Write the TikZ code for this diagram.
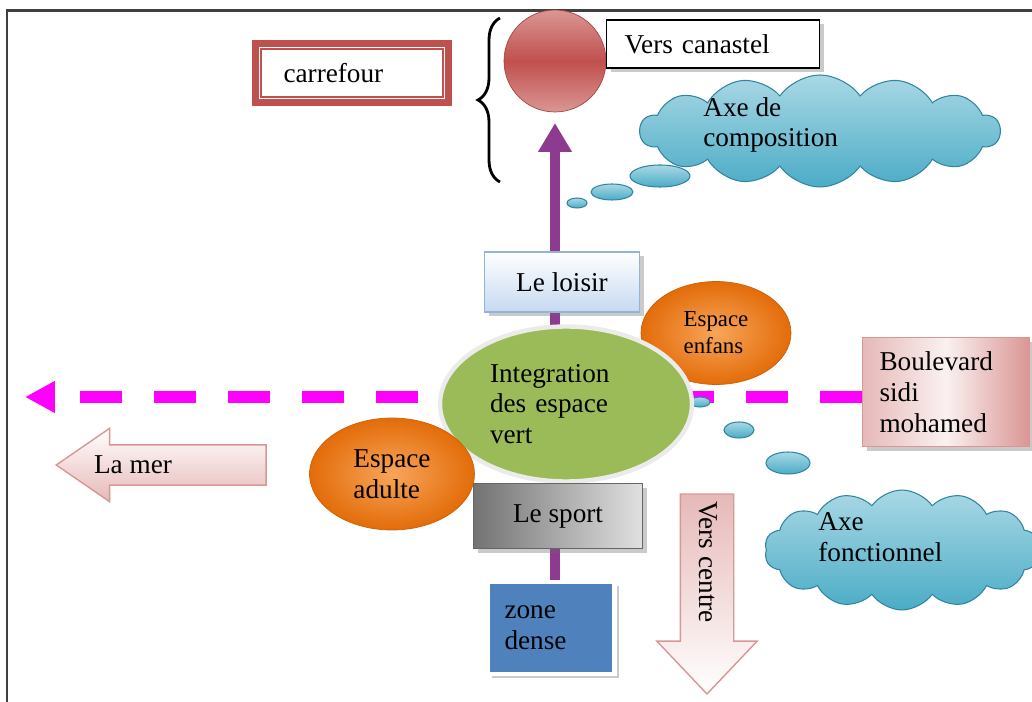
\documentclass[tikz,border=0pt]{standalone}
\usepackage{fontspec}
\setmainfont{Liberation Serif}
\usetikzlibrary{arrows.meta,positioning,shapes.geometric,shapes.symbols,shapes.arrows,calc,decorations.pathreplacing,backgrounds,shadows}
\definecolor{FrameGray}{HTML}{404040}
\definecolor{CarRed}{HTML}{C0504D}
\definecolor{RoseRed}{HTML}{DA9694}
\definecolor{AxePurple}{HTML}{8E3A91}
\definecolor{SeaMagenta}{HTML}{FF00FF}
\definecolor{Teal}{HTML}{4BACC6}
\definecolor{LightTeal}{HTML}{A9D8E5}
\definecolor{DarkTeal}{HTML}{31859C}
\definecolor{LightBlue}{HTML}{C6D9F1}
\definecolor{BorderBlue}{HTML}{95B3D7}
\definecolor{DeepOrange}{HTML}{E36C09}
\definecolor{LightOrange}{HTML}{F8A55A}
\definecolor{LeafGreen}{HTML}{9BBB59}
\definecolor{Pink}{HTML}{E6B9B8}
\definecolor{DenseBlue}{HTML}{4F81BD}
\tikzset{
  txt/.style={font=\fontsize{15.5}{17.5}\selectfont},
  boxshade/.style={drop shadow={shadow xshift=2.5pt, shadow yshift=-2.5pt, opacity=.35, fill=black!60}},
  carbox/.style={txt, rectangle, draw=CarRed, line width=1.4mm, fill=white, minimum height=1.18cm, inner xsep=.56cm, text width=2.74cm, align=left},
  namebox/.style={txt, rectangle, draw=black, line width=.9pt, fill=white, minimum height=.96cm, inner xsep=.36cm, text width=3.54cm, align=left, boxshade},
  topball/.style={circle, minimum size=2.04cm, top color=RoseRed, bottom color=RoseRed, middle color=CarRed, draw=CarRed!85!black, thin},
  axecloud/.style={cloud, cloud puffs=14, cloud puff arc=110, cloud ignores aspect, top color=LightTeal, bottom color=Teal, draw=DarkTeal, line width=.6pt},
  bubble/.style={ellipse, inner sep=0pt, top color=LightTeal, bottom color=Teal, draw=DarkTeal, line width=.6pt},
  loisirbox/.style={txt, rectangle, minimum width=3.1cm, minimum height=1.2cm, top color=white, bottom color=LightBlue, draw=BorderBlue, line width=1pt, boxshade},
  sportbox/.style={txt, rectangle, minimum width=3.38cm, minimum height=1.3cm, left color=black!55, right color=black!12, draw=black!60, line width=.8pt, boxshade},
  densebox/.style={txt, rectangle, minimum height=1.84cm, inner xsep=.34cm, text width=1.86cm, align=left, fill=DenseBlue, draw=white, line width=2.5pt, boxshade},
  bvdbox/.style={txt, rectangle, minimum height=2.18cm, inner xsep=.34cm, text width=2.66cm, align=left, left color=Pink, right color=RoseRed, middle color=white!80!Pink, draw=RoseRed, line width=.8pt, boxshade},
  greenblob/.style={txt, ellipse, inner sep=0pt, minimum width=5.04cm, minimum height=3.1cm, text width=3.04cm, fill=LeafGreen, draw=black!8, line width=2.5pt, align=left},
  orangeblob/.style={txt, ellipse, inner sep=0pt, inner color=LightOrange, outer color=DeepOrange, draw=DeepOrange!90!black, thin, align=left},
  blockarr/.style={single arrow, draw=RoseRed, line width=.8pt, inner ysep=0pt},
  purplearr/.style={-{Triangle[width=.64cm,length=.58cm]}, line width=.2cm, draw=AxePurple},
  seaway/.style={-{Triangle[width=.6cm,length=.6cm]}, line width=.24cm, draw=SeaMagenta, dash pattern=on .84cm off .64cm},
  bracedec/.style={decorate, decoration={brace, amplitude=.44cm}, line width=1.6pt},
  frameline/.style={draw=FrameGray, line width=.06cm}
}
\begin{document}
\begin{tikzpicture}[x=.02cm,y=-.02cm]
\useasboundingbox (0,0) rectangle (1032,702);
\clip (0,0) rectangle (1032,702);
\draw[frameline] (7,702) -- (7,11) -- (1032,11);

\node[carbox] (carrefour) at (352,73) {carrefour};
\draw[CarRed, line width=1pt] ([shift={(9,9)}]carrefour.north west) rectangle ([shift={(-9,-9)}]carrefour.south east);
\coordinate (braceBot) at (500,182);
\coordinate (braceTop) at (500,18);
\draw[bracedec] (braceBot) -- (braceTop);
\node[topball] (canastel) at (555,61) {};
\node[namebox] (canastelbox) at (713,44) {Vers canastel};

\node[axecloud, minimum width=7.2cm, minimum height=2.24cm] (compo) at (820,131) {};
\node[txt, anchor=west, align=left, inner sep=0pt] (compotxt) at (703,125) {Axe de\\composition};
\foreach \n/\bx/\by/\w/\h in {bA/577/203/.4/.2, bB/612/192/.84/.32, bC/660/176/1.2/.44, bD/700/402/.4/.2, bE/739/430/.6/.32, bF/788/463/.88/.44}{
  \node[bubble, minimum width=\w cm, minimum height=\h cm] (\n) at (\bx,\by) {};
}

\node[loisirbox] (loisir) at (562,282) {Le loisir};
\node[orangeblob, font=\fontsize{13}{15.5}\selectfont, minimum width=3cm, minimum height=2.06cm] (enfans) at (716,333) {Espace\\enfans};
\node[greenblob] (vert) at (566,404) {Integration\\des espace\\vert};
\node[orangeblob, minimum width=3.3cm, minimum height=2.24cm] (adulte) at (392,474) {Espace\\adulte};
\node[sportbox] (sport) at (558,516) {Le sport};
\node[densebox] (dense) at (551,628) {zone\\dense};
\node[bvdbox] (bvd) at (946,392) {Boulevard\\sidi\\mohamed};

\node[axecloud, minimum width=5.5cm, minimum height=2.4cm] (fonct) at (902,550) {};
\node[txt, anchor=west, align=left, inner sep=0pt] (fonctxt) at (818,537) {Axe\\fonctionnel};

\node[blockarr, anchor=tip, shape border rotate=180, minimum height=4.2cm, minimum width=1.44cm, single arrow head extend=.33cm, single arrow tip angle=69, top color=white, bottom color=Pink] (mer) at (55,465) {\rule{0pt}{.78cm}};
\node[txt, inner sep=0pt] (mertxt) at (133,465) {La mer};
\node[blockarr, anchor=tip, rotate=-90, minimum height=4cm, minimum width=1.98cm, single arrow head extend=.47cm, single arrow tip angle=87, top color=Pink, bottom color=white] (centre) at (707,695) {\rule{0pt}{1.04cm}};
\node[txt, inner sep=0pt, rotate=-90] (centretxt) at (708,562) {Vers centre};

\coordinate (loisirTip) at (555,123);
\coordinate (seaTip) at (25,397);
\begin{scope}[on background layer]
\draw[purplearr] (loisirTip |- dense.north) -- (loisirTip);
\draw[seaway] (bvd.west |- seaTip) -- (seaTip);
\end{scope}
\end{tikzpicture}
\end{document}
